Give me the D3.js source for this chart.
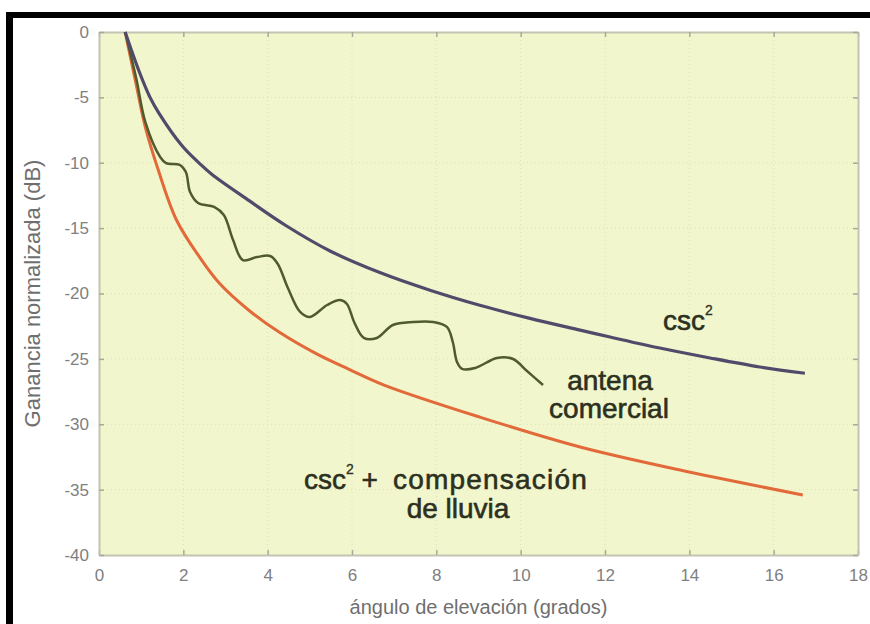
<!DOCTYPE html>
<html>
<head>
<meta charset="utf-8">
<script src="https://cdn.jsdelivr.net/npm/d3@7/dist/d3.min.js"></script>
<style>
  html, body { margin: 0; padding: 0; background: #ffffff; }
  svg { display: block; font-family: "Liberation Sans", Arial, Helvetica, sans-serif; }
</style>
</head>
<body>
<svg id="chart" width="870" height="624"></svg>
<script>
// ---- Data ----
const xTicks = [0, 2, 4, 6, 8, 10, 12, 14, 16, 18];
const yTicks = [0, -5, -10, -15, -20, -25, -30, -35, -40];

// csc^2 pattern
const cscAngle = [0.62, 0.95, 1.21, 1.42, 1.97, 2.40, 2.68, 3.56, 4.43, 5.48, 6.66, 7.85, 9.03, 10.22, 11.41, 12.12, 13.30, 14.49, 15.67, 16.74];
const cscGain  = [0, -3.0, -5.0, -6.2, -8.7, -10.1, -10.9, -12.9, -14.8, -16.75, -18.4, -19.75, -20.9, -21.9, -22.8, -23.33, -24.17, -24.93, -25.62, -26.1];

// csc^2 + rain compensation
const rainAngle = [0.62, 0.88, 1.10, 1.40, 1.84, 2.38, 2.85, 3.56, 4.27, 5.15, 5.93, 6.76, 9.03, 11.41, 13.78, 16.69];
const rainGain  = [0, -4.0, -7.3, -10.5, -14.4, -17.2, -19.2, -21.3, -22.95, -24.6, -25.8, -27.0, -29.45, -31.74, -33.5, -35.41];

// commercial antenna
const antAngle = [0.62, 0.88, 1.10, 1.45, 1.59, 1.92, 2.06, 2.16, 2.35, 2.73, 2.96, 3.18, 3.41, 3.75, 4.06, 4.24, 4.48, 4.77, 5.00, 5.41, 5.72, 5.88, 6.05, 6.28, 6.59, 6.97, 7.45, 7.92, 8.25, 8.39, 8.49, 8.61, 8.92, 9.44, 9.82, 10.15, 10.53];
const antGain  = [0, -3.5, -6.9, -9.56, -10.02, -10.17, -10.71, -12.24, -13.08, -13.38, -14.0, -15.91, -17.44, -17.21, -17.13, -17.74, -19.58, -21.41, -21.8, -20.88, -20.5, -20.8, -22.18, -23.4, -23.4, -22.41, -22.18, -22.18, -22.56, -23.71, -25.24, -25.77, -25.7, -24.93, -25.01, -25.93, -27.0];

// ---- Layout ----
const svg = d3.select("#chart");
const plot = { left: 99, top: 32, right: 858, bottom: 555 };

const x = d3.scaleLinear().domain([0, 18]).range([plot.left, plot.right]);
const y = d3.scaleLinear().domain([-40, 0]).range([plot.bottom, plot.top]);

// page frame (black bars at top and left)
svg.append("rect").attr("x", 0).attr("y", 0).attr("width", 870).attr("height", 624).attr("fill", "#ffffff");
svg.append("rect").attr("x", 6).attr("y", 12).attr("width", 864).attr("height", 6).attr("fill", "#000");
svg.append("rect").attr("x", 6).attr("y", 12).attr("width", 7).attr("height", 612).attr("fill", "#000");

// plot background
svg.append("rect")
  .attr("x", plot.left).attr("y", plot.top)
  .attr("width", plot.right - plot.left).attr("height", plot.bottom - plot.top)
  .attr("fill", "#f2f6cc");

// grid (faint dotted)
const grid = svg.append("g").attr("stroke", "#dde0bc").attr("stroke-width", 1).attr("stroke-dasharray", "1,3");
grid.selectAll("line.gx").data(xTicks.slice(1, -1)).join("line")
  .attr("x1", d => x(d)).attr("x2", d => x(d)).attr("y1", plot.top).attr("y2", plot.bottom);
grid.selectAll("line.gy").data(yTicks.slice(1, -1)).join("line")
  .attr("y1", d => y(d)).attr("y2", d => y(d)).attr("x1", plot.left).attr("x2", plot.right);

// axes (MATLAB-like: inward ticks on all four sides)
const tickColor = "#a9a99a";
const labelColor = "#808080";
const axBottom = svg.append("g").attr("transform", `translate(0,${plot.bottom})`)
  .call(d3.axisBottom(x).tickValues(xTicks).tickSizeInner(-5).tickSizeOuter(0).tickPadding(14));
const axTop = svg.append("g").attr("transform", `translate(0,${plot.top})`)
  .call(d3.axisTop(x).tickValues(xTicks).tickSizeInner(-5).tickSizeOuter(0).tickFormat(""));
const axLeft = svg.append("g").attr("transform", `translate(${plot.left},0)`)
  .call(d3.axisLeft(y).tickValues(yTicks).tickSizeInner(-5).tickSizeOuter(0).tickPadding(10).tickFormat(d3.format("d")));
const axRight = svg.append("g").attr("transform", `translate(${plot.right},0)`)
  .call(d3.axisRight(y).tickValues(yTicks).tickSizeInner(-5).tickSizeOuter(0).tickFormat(""));

[axBottom, axTop, axLeft, axRight].forEach(g => {
  g.select(".domain").attr("stroke", "#c3c4b2").attr("stroke-width", 2);
  g.selectAll(".tick line").attr("stroke", tickColor).attr("stroke-width", 1.5);
  g.selectAll(".tick text").attr("fill", labelColor).attr("font-size", 17)
    .attr("font-family", "'Liberation Sans', Arial, sans-serif");
});
axLeft.selectAll(".tick text").text(d => d === 0 ? "0" : "-" + Math.abs(d));

// axis titles
svg.append("text")
  .attr("x", (plot.left + plot.right) / 2).attr("y", 614)
  .attr("text-anchor", "middle").attr("fill", "#6f6f6f").attr("font-size", 20)
  .text("ángulo de elevación (grados)");
svg.append("text")
  .attr("transform", `translate(40,${(plot.top + plot.bottom) / 2}) rotate(-90)`)
  .attr("text-anchor", "middle").attr("fill", "#6f6f6f").attr("font-size", 22)
  .text("Ganancia normalizada (dB)");

// curves
const line = d3.line().x(d => x(d[0])).y(d => y(d[1])).curve(d3.curveCatmullRom.alpha(0.5));
const zip = (a, b) => a.map((v, i) => [v, b[i]]);

svg.append("path").datum(zip(rainAngle, rainGain))
  .attr("d", line).attr("fill", "none").attr("stroke", "#e2693a").attr("stroke-width", 3);
svg.append("path").datum(zip(antAngle, antGain))
  .attr("d", line).attr("fill", "none").attr("stroke", "#4f5a30").attr("stroke-width", 2.5);
svg.append("path").datum(zip(cscAngle, cscGain))
  .attr("d", line).attr("fill", "none").attr("stroke", "#524a6a").attr("stroke-width", 3.2);

// annotations
const noteColor = "#2c301f";
const notes = svg.append("g").attr("fill", noteColor).attr("stroke", noteColor)
  .attr("stroke-width", 0.6).attr("font-size", 28);

const t1 = notes.append("text").attr("x", 663).attr("y", 330);
t1.append("tspan").text("csc");
t1.append("tspan").attr("font-size", 14).attr("stroke-width", 0.3).attr("dy", -15).text("2");

notes.append("text").attr("x", 610).attr("y", 390).attr("text-anchor", "middle").text("antena");
notes.append("text").attr("x", 609).attr("y", 418).attr("text-anchor", "middle").text("comercial");

const t3 = notes.append("text").attr("x", 304).attr("y", 489);
t3.append("tspan").text("csc");
t3.append("tspan").attr("font-size", 14).attr("stroke-width", 0.3).attr("dy", -15).text("2");
t3.append("tspan").attr("dy", 15).text(" + ");
notes.append("text").attr("x", 588).attr("y", 489).attr("text-anchor", "end")
  .attr("letter-spacing", 1.2).text("compensación");
notes.append("text").attr("x", 458).attr("y", 518).attr("text-anchor", "middle").text("de lluvia");
</script>
</body>
</html>
